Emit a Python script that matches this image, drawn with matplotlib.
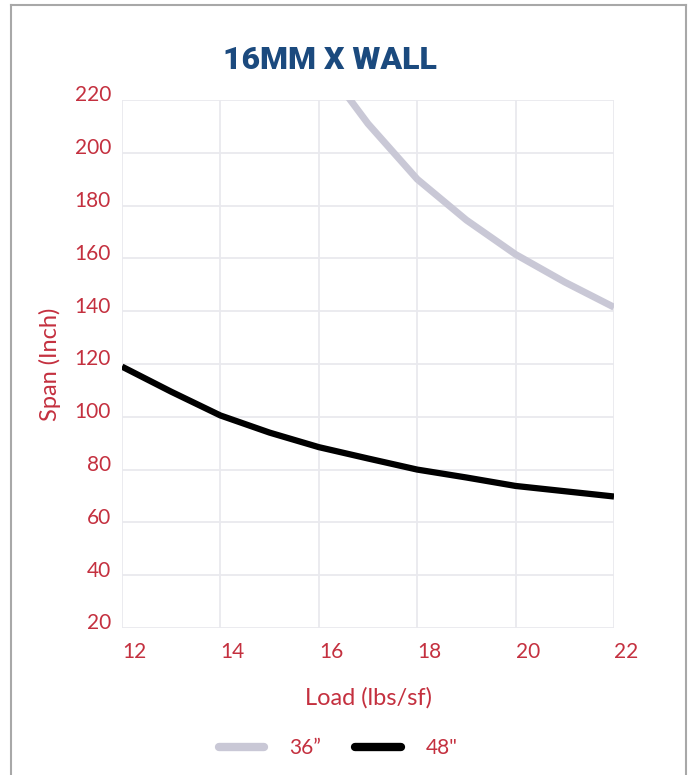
import matplotlib.pyplot as plt
import matplotlib.transforms as mtransforms
from matplotlib.lines import Line2D

# Datos
carga_36 = [16, 17, 18, 19, 20, 21, 22]
span_36 = [236, 211, 190, 174.5, 161.5, 151, 141.5]
carga_48 = [12, 13, 14, 15, 16, 17, 18, 19, 20, 21, 22]
span_48 = [119, 109.5, 100.5, 94, 88.5, 84.2, 80, 77, 73.8, 71.8, 69.8]

xticks = [12, 14, 16, 18, 20, 22]
yticks = [20, 40, 60, 80, 100, 120, 140, 160, 180, 200, 220]

rojo = '#c4303f'
azul = '#1b4a7e'
gris = '#c9c8d6'

plt.rcParams['font.family'] = ['Lato', 'DejaVu Sans']

fig = plt.figure(figsize=(6.9, 7.75), dpi=100)
ax = fig.add_axes([0.1768, 0.1897, 0.8899 - 0.1768, 0.871 - 0.1897])

ax.plot(carga_36, span_36, color=gris, lw=5, solid_capstyle='butt', label='36\u201d')
ax.plot(carga_48, span_48, color='black', lw=4.5, solid_capstyle='butt', label='48"')

ax.set_xlim(12, 22)
ax.set_ylim(20, 220)
ax.set_xticks(xticks)
ax.set_yticks(yticks)
ax.grid(True, color='#e9e9ee', lw=1.3)
ax.set_axisbelow(True)
for s in ax.spines.values():
    s.set_visible(False)
ax.tick_params(length=0, colors=rojo, labelsize=15)
ax.tick_params(axis='y', pad=8)
ax.tick_params(axis='x', pad=10)

# etiquetas de x alineadas a la izquierda de la linea
for lab in ax.get_xticklabels():
    lab.set_horizontalalignment('left')
# etiquetas de y un poco por encima de la linea
desplaza = mtransforms.ScaledTranslation(0, 0.065, fig.dpi_scale_trans)
for lab in ax.get_yticklabels():
    lab.set_transform(lab.get_transform() + desplaza)

ax.set_xlabel('Load (lbs/sf)', color=rojo, fontsize=17, labelpad=18)
ax.set_ylabel('Span (Inch)', color=rojo, fontsize=17, labelpad=10)

fig.text(0.478, 0.923, '16MM X WALL', color=azul, fontsize=23, fontweight='black',
         ha='center', va='center', family=['Roboto', 'DejaVu Sans'])

leg = fig.legend(loc='center', bbox_to_anchor=(0.49, 0.035), ncol=2, frameon=False,
                 fontsize=15, handlelength=2.2, handletextpad=1.2, columnspacing=1.6)
for h in leg.legend_handles:
    h.set_linewidth(6)
    h.set_solid_capstyle('round')
for t in leg.get_texts():
    t.set_color(rojo)

# marco gris alrededor
borde = dict(color='#a8a8a8', lw=1.5, transform=fig.transFigure)
fig.add_artist(Line2D([0.016, 0.016], [0, 0.994], **borde))
fig.add_artist(Line2D([0.016, 0.994], [0.994, 0.994], **borde))
fig.add_artist(Line2D([0.994, 0.994], [0, 0.994], **borde))

fig.savefig('out.png', dpi=100, facecolor='white')
